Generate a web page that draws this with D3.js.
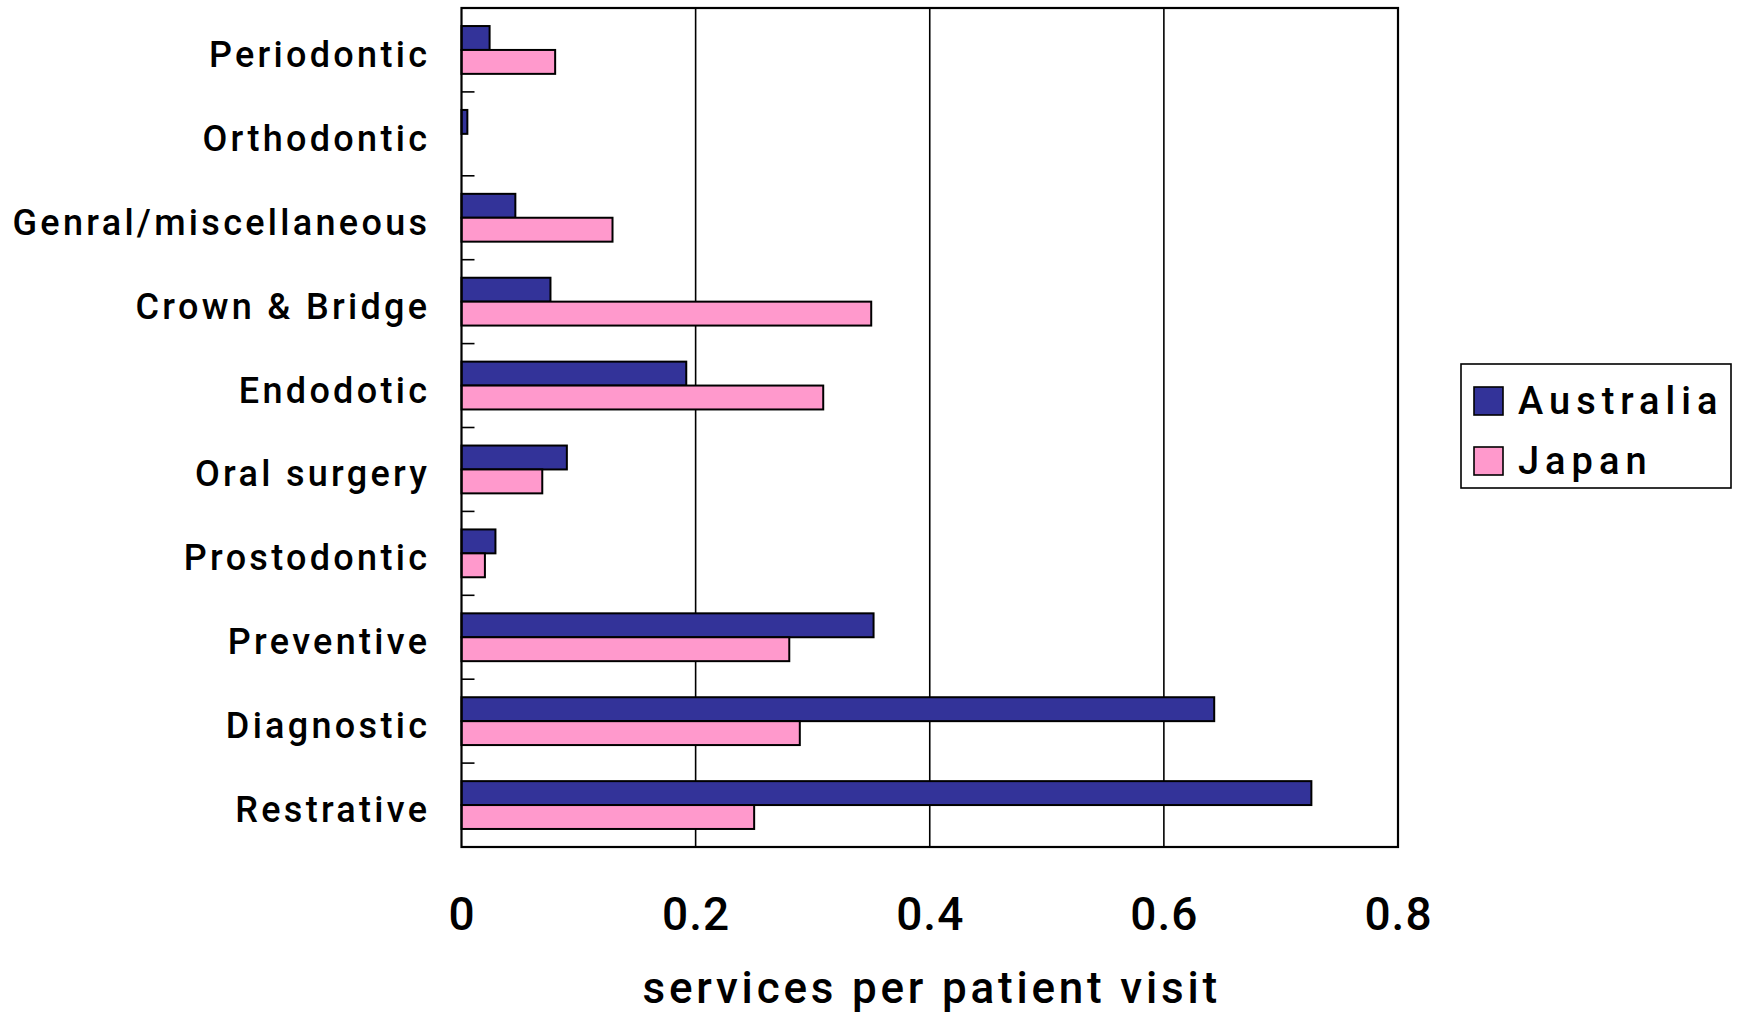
<!DOCTYPE html>
<html>
<head>
<meta charset="utf-8">
<script src="https://cdn.jsdelivr.net/npm/d3@7"></script>
<style>
  html, body { margin: 0; padding: 0; background: #fff; }
  svg { display: block; }
  text { font-family: Roboto, "Liberation Sans", sans-serif; fill: #000; }
</style>
</head>
<body>
<svg id="chart" width="1740" height="1014"></svg>
<script>
const categories = ["Periodontic", "Orthodontic", "Genral/miscellaneous", "Crown & Bridge", "Endodotic", "Oral surgery", "Prostodontic", "Preventive", "Diagnostic", "Restrative"];
const seriesNames = ["Australia", "Japan"];
const australia = [0.024, 0.005, 0.046, 0.076, 0.192, 0.090, 0.029, 0.352, 0.643, 0.726];
const japan = [0.080, 0, 0.129, 0.350, 0.309, 0.069, 0.020, 0.280, 0.289, 0.250];
const xTicks = [0, 0.2, 0.4, 0.6, 0.8];
const xTickLabels = ["0", "0.2", "0.4", "0.6", "0.8"];
const colors = ["#333399", "#FF99CC"];
const axisTitle = "services per patient visit";

const svg = d3.select("#chart");
const L = 461.5, R = 1398, T = 8, B = 847;

const x = d3.scaleLinear().domain([0, 0.8]).range([L, R]);
const y = d3.scaleBand().domain(categories).range([T, B]).paddingInner(0.43).paddingOuter(0.215);
const ySub = d3.scaleBand().domain(seriesNames).range([0, y.bandwidth()]);

const data = categories.map((c, i) => ({ cat: c, values: [australia[i], japan[i]] }));

svg.append("rect").attr("x", L).attr("y", T).attr("width", R - L).attr("height", B - T).attr("fill", "#fff");

// gridlines
svg.append("g").selectAll("line").data(xTicks.slice(1, -1)).join("line")
  .attr("x1", d => x(d)).attr("x2", d => x(d)).attr("y1", T).attr("y2", B)
  .attr("stroke", "#000").attr("stroke-width", 1.6);

// bars
const groups = svg.append("g").selectAll("g").data(data).join("g")
  .attr("transform", d => `translate(0,${y(d.cat)})`);
groups.selectAll("rect").data(d => d.values.map((v, j) => ({ v, s: seriesNames[j], j })).filter(e => e.v > 0)).join("rect")
  .attr("x", x(0)).attr("y", e => ySub(e.s))
  .attr("width", e => x(e.v) - x(0)).attr("height", ySub.bandwidth())
  .attr("fill", e => colors[e.j]).attr("stroke", "#000").attr("stroke-width", 2);

// left category ticks (inside) at band boundaries
const step = (B - T) / categories.length;
const boundaries = d3.range(1, categories.length).map(i => T + i * step);
svg.append("g").selectAll("line").data(boundaries).join("line")
  .attr("x1", L).attr("x2", L + 13).attr("y1", d => d).attr("y2", d => d)
  .attr("stroke", "#000").attr("stroke-width", 1.6);

// plot border
svg.append("rect").attr("x", L).attr("y", T).attr("width", R - L).attr("height", B - T)
  .attr("fill", "none").attr("stroke", "#000").attr("stroke-width", 2.2);

// category labels
const labLS = 3.3;
svg.append("g").selectAll("text").data(categories).join("text")
  .attr("x", 427 + labLS).attr("y", d => y(d) + y.bandwidth() / 2 + 17)
  .attr("text-anchor", "end").attr("font-size", 36).attr("font-weight", 500)
  .attr("letter-spacing", labLS)
  .text(d => d);

// x tick labels
svg.append("g").selectAll("text").data(xTicks).join("text")
  .attr("x", (d) => x(d) + 0.5).attr("y", 930)
  .attr("text-anchor", "middle").attr("font-size", 46).attr("font-weight", 500)
  .attr("letter-spacing", 1)
  .text((d, i) => xTickLabels[i]);

// axis title
const titleLS = 3.8;
svg.append("text").attr("x", (L + R) / 2 + titleLS / 2).attr("y", 1003)
  .attr("text-anchor", "middle").attr("font-size", 44).attr("font-weight", 500)
  .attr("letter-spacing", titleLS)
  .text(axisTitle);

// legend
const lg = svg.append("g");
lg.append("rect").attr("x", 1461).attr("y", 364).attr("width", 270).attr("height", 124)
  .attr("fill", "#fff").attr("stroke", "#000").attr("stroke-width", 1.6);
const items = lg.selectAll("g").data(seriesNames).join("g")
  .attr("transform", (d, i) => `translate(1474,${387 + i * 60})`);
items.append("rect").attr("width", 29).attr("height", 28)
  .attr("fill", (d, i) => colors[i]).attr("stroke", "#000").attr("stroke-width", 1.6);
items.append("text").attr("x", 44).attr("y", 27)
  .attr("font-size", 38).attr("font-weight", 500).attr("letter-spacing", 6)
  .text(d => d);
</script>
</body>
</html>
